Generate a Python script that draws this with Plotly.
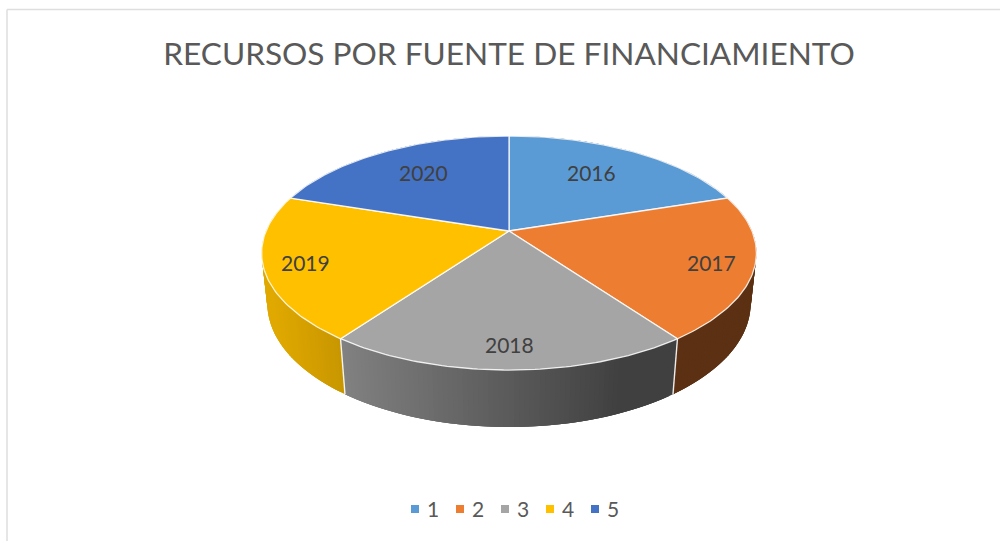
import math
import numpy as np
import plotly.graph_objects as go

# ---- data ----
TITLE = "RECURSOS POR FUENTE DE FINANCIAMIENTO"
years = ["2016", "2017", "2018", "2019", "2020"]
legend_names = ["1", "2", "3", "4", "5"]
values = [20, 20, 20, 20, 20]
colors = ["#5B9BD5", "#ED7D31", "#A5A5A5", "#FFC000", "#4472C4"]

# ---- projection of the tilted disc onto the page (pixel scale of the axes) ----
CX, CY = 509, 231
R, A, B = 243.0, 112.9, 0.188
DEPTH_W, DEPTH_D = 1.023, 50.8
STEP = 1.0
OVERLAP = 3
label_r = [0.63, 0.83, 0.83, 0.83, 0.63]
label_dy = [6, -1, -2, -1, 6]
label_dx = [0, 1, 0, -2, -3]
LEG_X0, LEG_DX, LEG_Y = 415, 45, 509
INK = "#404040"


def top(theta, r=1.0):
    u, v = r * math.sin(theta), r * math.cos(theta)
    w = 1 + B * v
    return CX + R * u / w, CY - A * v / w


def bottom(theta):
    u, v = math.sin(theta), math.cos(theta)
    w = DEPTH_W + B * v
    return CX + R * u / w, CY + (-A * v + DEPTH_D) / w


def shade(hex_color, x):
    f = min(0.88, max(0.39, 0.78 - 0.00142 * (x - 345)))
    rgb = [int(hex_color[i:i + 2], 16) for i in (1, 3, 5)]
    return "rgb(%d,%d,%d)" % tuple(round(c * f) for c in rgb)


fractions = np.cumsum([0] + values) / sum(values)
edges = [2 * math.pi * f for f in fractions]

fig = go.Figure()

# side wall: overlapping shaded strips per slice, painted in angle order so no seams show
for i, col in enumerate(colors):
    a0, a1 = edges[i], edges[i + 1]
    n = max(1, round(math.degrees(a1 - a0) / STEP))
    angles = [a0 + (a1 - a0) * k / n for k in range(n + 1)]
    for k in range(n):
        span = angles[k:min(n, k + OVERLAP) + 1]
        p = [top(t) for t in span] + [bottom(t) for t in reversed(span)]
        p.append(p[0])
        xs, ys = zip(*p)
        mx = (top(angles[k])[0] + top(angles[k + 1])[0] + bottom(angles[k])[0] + bottom(angles[k + 1])[0]) / 4
        c = shade(col, mx)
        fig.add_trace(go.Scatter(x=xs, y=ys, mode="lines", fill="toself", fillcolor=c,
                                 line=dict(width=0), showlegend=False, hoverinfo="skip"))

# white dividers on the wall
for e in edges[:-1]:
    a, b = top(e), bottom(e)
    fig.add_trace(go.Scatter(x=[a[0], b[0]], y=[a[1], b[1]], mode="lines",
                             line=dict(color="rgba(255,255,255,0.9)", width=1.4),
                             showlegend=False, hoverinfo="skip"))

# top faces
for i, col in enumerate(colors):
    a0, a1 = edges[i], edges[i + 1]
    n = max(2, round(math.degrees(a1 - a0)))
    rim = [top(a0 + (a1 - a0) * k / n) for k in range(n + 1)]
    xs, ys = zip(*([(CX, CY)] + rim + [(CX, CY)]))
    fig.add_trace(go.Scatter(x=xs, y=ys, mode="lines", fill="toself", fillcolor=col,
                             line=dict(color="rgba(255,255,255,0.85)", width=1.3),
                             showlegend=False, hoverinfo="skip"))

# legend row
for i, (name, col) in enumerate(zip(legend_names, colors)):
    fig.add_trace(go.Scatter(x=[LEG_X0 + i * LEG_DX], y=[LEG_Y], mode="markers", name=name,
                             marker=dict(symbol="square", size=8, color=col),
                             showlegend=False, hoverinfo="skip"))

# slice labels and legend labels
annotations = []
for i, year in enumerate(years):
    mid = (edges[i] + edges[i + 1]) / 2
    lx, ly = top(mid, label_r[i])
    annotations.append(dict(x=lx, y=ly, text=year, showarrow=False,
                            xshift=label_dx[i], yshift=label_dy[i],
                            font=dict(family="Lato", size=21, color=INK)))
for i, name in enumerate(legend_names):
    annotations.append(dict(x=LEG_X0 + i * LEG_DX + 12, y=LEG_Y, text=name, showarrow=False,
                            xanchor="left", yshift=1, borderpad=0, borderwidth=0,
                            font=dict(family="Lato", size=21, color="#595959")))

fig.update_layout(
    width=1000, height=541,
    margin=dict(l=0, r=0, t=0, b=0),
    paper_bgcolor="white", plot_bgcolor="white",
    showlegend=False,
    xaxis=dict(range=[0, 1000], visible=False, fixedrange=True),
    yaxis=dict(range=[541, 0], visible=False, fixedrange=True),
    title=dict(text=TITLE, x=0.509, xanchor="center", y=0.9, yanchor="middle",
               font=dict(family="Lato", size=31.6, color="#595959")),
    annotations=annotations,
    shapes=[
        dict(type="line", xref="x", yref="y", x0=7, x1=1000, y0=9.5, y1=9.5,
             line=dict(color="#DEDEDE", width=1.5)),
        dict(type="line", xref="x", yref="y", x0=7, x1=7, y0=9.5, y1=541,
             line=dict(color="#DEDEDE", width=1.5)),
    ],
)
fig.write_html("out.html", config={"displayModeBar": False},
               post_script="document.body.style.margin='0';document.body.style.overflow='hidden';")
